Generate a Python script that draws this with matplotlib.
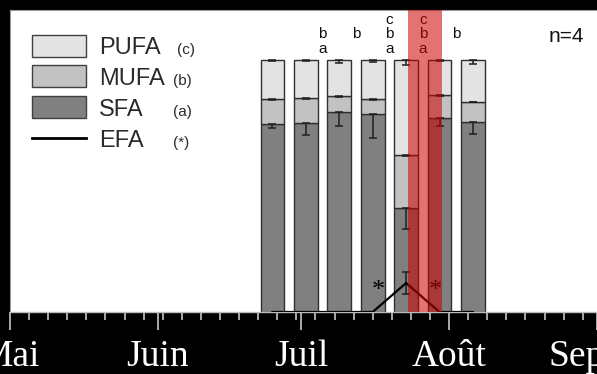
import numpy as np
import matplotlib.pyplot as plt
from matplotlib.patches import Rectangle
from matplotlib.lines import Line2D
import matplotlib.transforms as mtransforms

# sampling dates (days since 1 May) and fatty acid composition (%)
days = [55, 62, 69, 76, 83, 90, 97]
sfa = [74.6, 74.9, 79.2, 78.5, 41.3, 76.9, 75.5]
mufa = [9.8, 9.9, 6.6, 6.0, 21.0, 9.2, 8.0]
pufa = [15.6, 15.2, 14.2, 15.5, 37.7, 13.9, 16.5]
sfa_err = [1.7, 4.6, 5.4, 9.5, 8.3, 3.1, 5.0]
mufa_err = [0.3, 0.3, 0.3, 0.3, 0.4, 0.4, 0.3]
pufa_err = [0.4, 0.3, 1.3, 0.7, 2.0, 0.4, 1.7]
efa = [0, 0, 0, 0, 11.5, 0, 0]
efa_err = [0, 0, 0, 0, 4.2, 0, 0]

# significance letters between consecutive samples
sig_days = [65.5, 72.5, 79.5, 86.5, 93.5]
sig_letters = ["ba", "b", "cba", "cba", "b"]
star_days = [77.1, 89.2]
star_y = [6.0, 6.0]
highlight = (83.3, 90.6)

month_days = [0, 31, 61, 92, 123]
month_labels = ["Mai", "Juin", "Juil", "Août", "Sep"]

c_pufa, c_mufa, c_sfa = "#e3e3e3", "#c2c2c2", "#808080"
edge = "#303030"

fig = plt.figure(figsize=(5.97, 3.74), dpi=100, facecolor="black")
ax = fig.add_axes([10 / 597, 62 / 374, 587 / 597, 302 / 374])
ax.set_facecolor("white")

x = np.array(days, dtype=float)
sfa = np.array(sfa)
mufa = np.array(mufa)
pufa = np.array(pufa)
w = 5.0

ax.bar(x, sfa, w, color=c_sfa, edgecolor=edge, lw=1.0, zorder=2)
ax.bar(x, mufa, w, bottom=sfa, color=c_mufa, edgecolor=edge, lw=1.0, zorder=2)
ax.bar(x, pufa, w, bottom=sfa + mufa, color=c_pufa, edgecolor=edge, lw=1.0, zorder=2)

eb = dict(fmt="none", ecolor="#202020", elinewidth=1.1, capsize=3, capthick=1.1, zorder=3)
z = np.zeros(len(x))
ax.errorbar(x, sfa, yerr=[sfa_err, z], **eb)
ax.errorbar(x, sfa + mufa, yerr=[mufa_err, z], **eb)
ax.errorbar(x, sfa + mufa + pufa, yerr=[pufa_err, z], **eb)

# EFA line
ax.plot(x, efa, color="black", lw=1.6, zorder=4)
efa = np.array(efa)
efa_err = np.array(efa_err)
m = efa_err > 0
ax.errorbar(x[m], efa[m], yerr=efa_err[m], **eb)

for sx, sy in zip(star_days, star_y):
    ax.text(sx, sy, "*", ha="center", va="baseline", fontsize=19,
            family="Liberation Serif", color="black", zorder=4)

# letters
trans = mtransforms.blended_transform_factory(ax.transData, ax.transAxes)
rows = {"c": 0.967, "b": 0.920, "a": 0.871}
for sx, letters in zip(sig_days, sig_letters):
    for ch in letters:
        ax.text(sx, rows[ch], ch, transform=trans, ha="center", va="center",
                fontsize=11, family="Liberation Sans", color="#111111", zorder=4)

ax.axvspan(*highlight, color="#cc0000", alpha=0.55, lw=0, zorder=6)

ax.text(0.947, 0.912, "n=4", transform=ax.transAxes, ha="center", va="center",
        fontsize=15, family="Liberation Sans", color="#111111")

# legend drawn by hand
bx, bw, bh = 0.0375, 0.092, 0.072
for yb, col in zip([0.844, 0.745, 0.642], [c_pufa, c_mufa, c_sfa]):
    ax.add_patch(Rectangle((bx, yb), bw, bh, transform=ax.transAxes,
                           facecolor=col, edgecolor="#404040", lw=1.0, zorder=7))
ax.add_line(Line2D([bx, bx + bw], [0.576, 0.576], transform=ax.transAxes,
                   color="black", lw=2.0, zorder=7))
for yb, name, suf in zip([0.854, 0.752, 0.648, 0.545],
                         ["PUFA", "MUFA", "SFA", "EFA"],
                         ["(c)", "(b)", "(a)", "(*)"]):
    ax.text(0.1516, yb, name, transform=ax.transAxes, va="baseline", ha="left",
            fontsize=17, family="Liberation Sans", color="#2a2a2a")
    sx = 0.2845 if suf == "(c)" else 0.2777
    ax.text(sx, yb, suf, transform=ax.transAxes, va="baseline", ha="left",
            fontsize=11, family="Liberation Sans", color="#2a2a2a")

ax.set_xlim(0, 587 / 4.8)
ax.set_ylim(0, 302 / 2.52)

ax.set_yticks([])
ax.set_xticks(month_days)
ax.set_xticklabels(month_labels, family="Liberation Serif", fontsize=27, color="white")
ax.set_xticks(np.arange(0, 124, 4), minor=True)
ax.tick_params(axis="x", which="major", length=13, width=1.1, color="#d8d8d8", pad=7)
ax.tick_params(axis="x", which="minor", length=6, width=1.1, color="#d8d8d8")
off = mtransforms.ScaledTranslation(-0.2, 0, fig.dpi_scale_trans)
lab = ax.get_xticklabels()[-1]
lab.set_transform(lab.get_transform() + off)

for s in ["top", "left"]:
    ax.spines[s].set_color("#999999")
    ax.spines[s].set_linewidth(0.8)
ax.spines["right"].set_visible(False)
ax.spines["bottom"].set_color("#bbbbbb")
ax.spines["bottom"].set_linewidth(1.0)

fig.savefig("out.png", dpi=100, facecolor="black")
